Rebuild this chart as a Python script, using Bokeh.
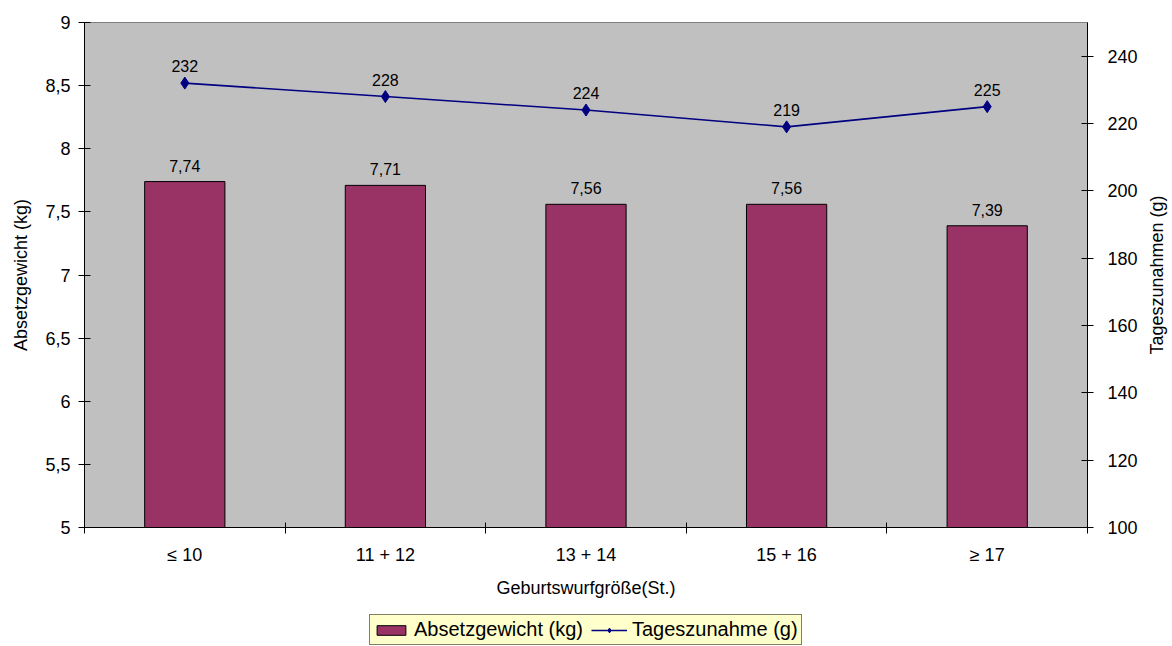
import math

from bokeh.plotting import figure
from bokeh.layouts import column, row
from bokeh.models import (Range1d, LinearAxis, FixedTicker, ColumnDataSource,
                          LabelSet, Legend, LegendItem)
from bokeh.core.properties import value
from bokeh.embed import file_html
from bokeh.resources import INLINE

# Litter size at birth vs. weaning weight and daily gain
categories = ["≤ 10", "11 + 12", "13 + 14", "15 + 16", "≥ 17"]
absetzgewicht = [7.74, 7.71, 7.56, 7.56, 7.39]      # kg
tageszunahme = [232, 228, 224, 219, 225]            # g
left_ticks = [5, 5.5, 6, 6.5, 7, 7.5, 8, 8.5, 9]
right_ticks = [100, 120, 140, 160, 180, 200, 220, 240]
right_title = "Tageszunahmen (g)"

FONT = "Liberation Sans"
BAR_COLOR = "#993366"
LINE_COLOR = "#000080"


def de(v, digits):
    return f"{v:.{digits}f}".replace(".", ",")


def bare(fig):
    fig.outline_line_color = None
    fig.xgrid.grid_line_color = None
    fig.ygrid.grid_line_color = None


xs = [i + 0.5 for i in range(len(categories))]
src = ColumnDataSource(dict(
    x=xs,
    w=absetzgewicht,
    g=tageszunahme,
    wl=[de(v, 2) for v in absetzgewicht],
    gl=[str(v) for v in tageszunahme],
))

p = figure(width=1140, height=610, output_backend="svg", toolbar_location=None,
           x_range=Range1d(0, len(categories)), y_range=Range1d(5, 9),
           min_border_left=84, min_border_right=52, min_border_top=22,
           min_border_bottom=83, background_fill_color="#C0C0C0",
           border_fill_color="white", x_axis_location=None, y_axis_location=None)
p.outline_line_color = "#808080"
p.outline_line_width = 1
p.xgrid.grid_line_color = None
p.ygrid.grid_line_color = None
p.extra_y_ranges = {"right": Range1d(100, 250)}

# Axes
xaxis = LinearAxis(ticker=FixedTicker(ticks=xs, minor_ticks=list(range(len(categories) + 1))),
                   axis_label="Geburtswurfgröße(St.)")
xaxis.major_label_overrides = {x: c for x, c in zip(xs, categories)}
xaxis.major_tick_in = 0
xaxis.major_tick_out = 0
xaxis.minor_tick_in = 5
xaxis.minor_tick_out = 6
xaxis.major_label_standoff = 11

yleft = LinearAxis(ticker=FixedTicker(ticks=left_ticks), axis_label="Absetzgewicht (kg)")
yleft.major_label_overrides = {t: de(t, 1) if t != int(t) else str(int(t)) for t in left_ticks}
yleft.major_tick_in = 6
yleft.major_tick_out = 6
yleft.major_label_standoff = 8

yright = LinearAxis(y_range_name="right", ticker=FixedTicker(ticks=right_ticks))
yright.major_tick_in = 6
yright.major_tick_out = 6
yright.major_label_standoff = 14

for ax in (xaxis, yleft, yright):
    ax.axis_line_color = "black"
    ax.major_tick_line_color = "black"
    ax.minor_tick_line_color = "black" if ax is xaxis else None
    ax.major_label_text_font = FONT
    ax.major_label_text_font_size = "18px"
    ax.major_label_text_color = "black"
    ax.axis_label_text_font = FONT
    ax.axis_label_text_font_size = "18px"
    ax.axis_label_text_font_style = "normal"
    ax.axis_label_text_color = "black"

yleft.axis_label_standoff = 11
xaxis.axis_label_standoff = 10

p.add_layout(xaxis, "below")
p.add_layout(yleft, "left")
p.add_layout(yright, "right")

# Bars: weaning weight
p.vbar(x="x", top="w", bottom=5, width=0.4, source=src,
       fill_color=BAR_COLOR, line_color="black", line_width=1)

# Line: daily gain on the right axis
p.line(x="x", y="g", source=src, y_range_name="right",
       line_color=LINE_COLOR, line_width=1.6)
p.scatter(x="x", y="g", source=src, y_range_name="right", marker="diamond",
          size=12, fill_color=LINE_COLOR, line_color=LINE_COLOR)

p.add_layout(LabelSet(x="x", y="w", text="wl", source=src, y_offset=10,
                      text_align="center", text_baseline="alphabetic",
                      text_font=value(FONT), text_font_size=value("16px"),
                      text_color="black"))
p.add_layout(LabelSet(x="x", y="g", text="gl", source=src, y_range_name="right",
                      y_offset=11, text_align="center", text_baseline="alphabetic",
                      text_font=value(FONT), text_font_size=value("16px"),
                      text_color="black"))

# Right-hand axis title, reading bottom to top
side = figure(width=32, height=610, output_backend="svg", toolbar_location=None,
              x_range=Range1d(0, 1), y_range=Range1d(0, 1),
              min_border=0, x_axis_location=None, y_axis_location=None)
bare(side)
side.text(x=[0.5], y=[0.5], text=[right_title], angle=math.pi / 2,
          text_align="center", text_baseline="middle",
          text_font=value(FONT), text_font_size=value("18px"), text_color="black")

# Legend strip underneath the chart
leg = figure(width=1172, height=36, output_backend="svg", toolbar_location=None,
             x_range=Range1d(0, 1), y_range=Range1d(0, 1),
             min_border=0, x_axis_location=None, y_axis_location=None)
bare(leg)
key = ColumnDataSource(dict(x=[-10], y=[-10], t=[-10]))
k_bar = leg.vbar(x="x", top="t", width=0.1, source=key,
                 fill_color=BAR_COLOR, line_color="black", line_width=1)
k_line = leg.line(x="x", y="y", source=key, line_color=LINE_COLOR, line_width=1.6)
k_mark = leg.scatter(x="x", y="y", source=key, marker="diamond", size=10,
                     fill_color=LINE_COLOR, line_color=LINE_COLOR)

legend = Legend(items=[LegendItem(label="Absetzgewicht (kg)", renderers=[k_bar]),
                       LegendItem(label="Tageszunahme (g)", renderers=[k_line, k_mark])],
                orientation="horizontal", location=(369, 1),
                background_fill_color="#FFFFCC", background_fill_alpha=1,
                border_line_color="black", border_line_width=1,
                label_text_font=FONT, label_text_font_size="20px",
                label_text_color="black", glyph_width=36, glyph_height=12,
                padding=3, margin=0, spacing=8, label_standoff=5,
                label_height=20)
leg.add_layout(legend, "center")

layout = column(row(p, side, spacing=0), leg, spacing=0)
open("out.html", "w").write(file_html(layout, INLINE))
